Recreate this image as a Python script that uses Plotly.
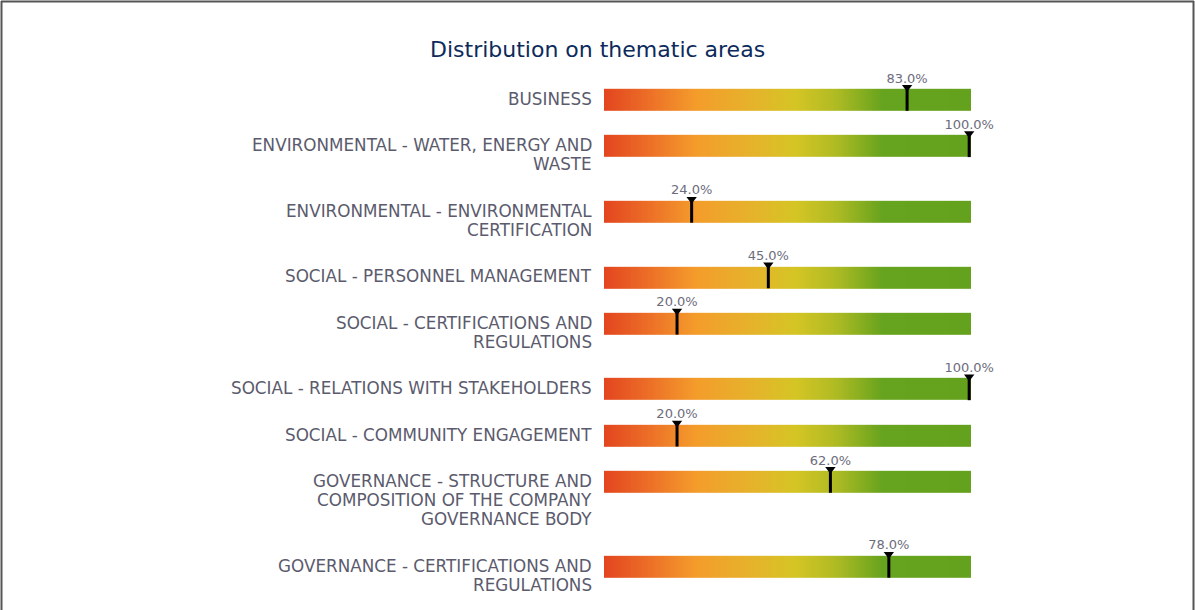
import numpy as np
import plotly.graph_objects as go

# ---- data ----
label_lines = [
    ["BUSINESS"],
    ["ENVIRONMENTAL - WATER, ENERGY AND", "WASTE"],
    ["ENVIRONMENTAL - ENVIRONMENTAL", "CERTIFICATION"],
    ["SOCIAL - PERSONNEL MANAGEMENT"],
    ["SOCIAL - CERTIFICATIONS AND", "REGULATIONS"],
    ["SOCIAL - RELATIONS WITH STAKEHOLDERS"],
    ["SOCIAL - COMMUNITY ENGAGEMENT"],
    ["GOVERNANCE - STRUCTURE AND", "COMPOSITION OF THE COMPANY", "GOVERNANCE BODY"],
    ["GOVERNANCE - CERTIFICATIONS AND", "REGULATIONS"],
]
values = [83.0, 100.0, 24.0, 45.0, 20.0, 100.0, 20.0, 62.0, 78.0]
title = "Distribution on thematic areas"

# ---- layout constants (pixels) ----
W, H = 1195, 610
PLOT_L, PLOT_R = 604, 971
FIRST_CENTER = 99.8
ROW_BASE, LINE_H = 27.0, 19.3
BAR_H = 22.0
X_MAX = 100.5

# row centers derived from number of label lines
centers = []
c = FIRST_CENTER
for lines in label_lines:
    centers.append(c)
    c += ROW_BASE + LINE_H * len(lines)

colorscale = [
    [0.00, "#e3451f"],
    [0.12, "#ec6e27"],
    [0.25, "#f49c2b"],
    [0.40, "#e6b22b"],
    [0.52, "#d5c525"],
    [0.63, "#b0bb23"],
    [0.76, "#66a31e"],
    [1.00, "#64a21d"],
]

# gradient tracks via heatmap with NaN gaps
x_edges = np.linspace(0, X_MAX, 302)
x_mid = (x_edges[:-1] + x_edges[1:]) / 2
y_edges = []
z = []
for i, cy in enumerate(centers):
    y_edges += [cy - BAR_H / 2, cy + BAR_H / 2]
    z.append(list(x_mid))
    if i < len(centers) - 1:
        z.append([np.nan] * len(x_mid))

fig = go.Figure()
fig.add_trace(go.Heatmap(
    x=x_edges, y=y_edges, z=z, colorscale=colorscale, zmin=0, zmax=X_MAX,
    showscale=False, hoverinfo="skip", zsmooth=False,
))

# marker lines
lx, ly = [], []
for v, cy in zip(values, centers):
    lx += [v, v, None]
    ly += [cy - BAR_H / 2 - 1, cy + BAR_H / 2, None]
fig.add_trace(go.Scatter(x=lx, y=ly, mode="lines", line=dict(color="black", width=3),
                         hoverinfo="skip", cliponaxis=False))
# triangles
fig.add_trace(go.Scatter(
    x=values, y=[cy - BAR_H / 2 - 1.5 for cy in centers], mode="markers",
    marker=dict(symbol="triangle-down", size=9, color="black", line=dict(width=0)),
    hoverinfo="skip", cliponaxis=False))
# value labels
fig.add_trace(go.Scatter(
    x=values, y=[cy - BAR_H / 2 - 9.5 for cy in centers], mode="text",
    text=[f"{v:.1f}%" for v in values],
    textfont=dict(family="DejaVu Sans", size=13, color="#6c6c7c"),
    hoverinfo="skip", cliponaxis=False))

annotations = []
for lines, cy in zip(label_lines, centers):
    for k, ln in enumerate(lines):
        annotations.append(dict(
            x=PLOT_L / W, xref="paper", xanchor="right", xshift=-10,
            y=cy + k * LINE_H, yref="y", yanchor="middle", yshift=1,
            text=ln, showarrow=False,
            font=dict(family="DejaVu Sans", size=16.8, color="#5b5b6d"),
        ))
annotations.append(dict(
    x=0.5, xref="paper", xanchor="center",
    y=1 - 49 / H, yref="paper", yanchor="middle",
    text=title, showarrow=False,
    font=dict(family="DejaVu Sans", size=22, color="#0c2a5b"),
))

border = "#555555"
shapes = [
    dict(type="line", xref="paper", yref="paper", x0=1 / W, x1=1194 / W, y0=1 - 1.5 / H, y1=1 - 1.5 / H,
         line=dict(color=border, width=2)),
    dict(type="line", xref="paper", yref="paper", x0=1.5 / W, x1=1.5 / W, y0=0, y1=1 - 1 / H,
         line=dict(color=border, width=2)),
    dict(type="line", xref="paper", yref="paper", x0=1193.5 / W, x1=1193.5 / W, y0=0, y1=1 - 1 / H,
         line=dict(color=border, width=2)),
]

fig.update_layout(
    width=W, height=H,
    margin=dict(l=0, r=0, t=0, b=0),
    paper_bgcolor="white", plot_bgcolor="white",
    showlegend=False,
    xaxis=dict(domain=[PLOT_L / W, PLOT_R / W], range=[0, X_MAX], visible=False, fixedrange=True),
    yaxis=dict(domain=[0, 1], range=[H, 0], visible=False, fixedrange=True),
    annotations=annotations,
    shapes=shapes,
)

fig.write_html("out.html", config={"displayModeBar": False})
